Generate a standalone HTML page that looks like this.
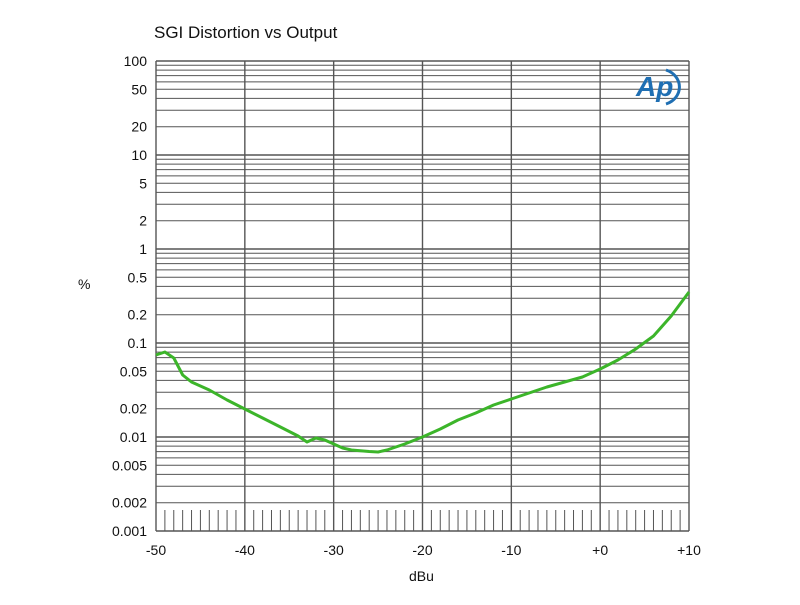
<!DOCTYPE html>
<html><head><meta charset="utf-8"><style>
body{margin:0;background:#fff;width:800px;height:600px;overflow:hidden}
svg text{font-family:"Liberation Sans",sans-serif;fill:#111}
</style></head><body>
<svg id="s" width="800" height="600" xmlns="http://www.w3.org/2000/svg">
<text x="154" y="38" font-size="17">SGI Distortion vs Output</text>
<text x="78" y="289" font-size="14">%</text>
<text x="409" y="581" font-size="14">dBu</text>
<g id="g"></g>
<g transform="translate(636,68)">
<text x="0" y="28" font-size="28" font-style="italic" font-weight="bold" style="fill:#1f6fb3">Ap</text>
<path d="M30 2 A20 18 0 0 1 30 36" fill="none" stroke="#1f6fb3" stroke-width="3"/>
</g>
</svg>
<script>
var g=document.getElementById('g'),h='';
var L=156,R=689,T=61,B=531,D=94,C='#555';
function yv(v){return T+(2-Math.log10(v))*D;}
for(var e=-3;e<2;e++)for(var m=1;m<10;m++){var y=yv(m*Math.pow(10,e));
h+='<line x1="'+L+'" x2="'+R+'" y1="'+y.toFixed(1)+'" y2="'+y.toFixed(1)+'" stroke="'+C+'" stroke-width="'+(m==1?1.4:1)+'"/>';}
h+='<line x1="'+L+'" x2="'+R+'" y1="'+T+'" y2="'+T+'" stroke="'+C+'" stroke-width="1.4"/>';
for(var d=-50;d<=10;d+=1){var x=L+(d+50)*(R-L)/60;
if(d%10==0)h+='<line x1="'+x+'" x2="'+x+'" y1="'+T+'" y2="'+B+'" stroke="'+C+'" stroke-width="1.4"/>';
else h+='<line x1="'+x+'" x2="'+x+'" y1="510" y2="'+B+'" stroke="'+C+'" stroke-width="1"/>';}
var lab=[[100,'100'],[50,'50'],[20,'20'],[10,'10'],[5,'5'],[2,'2'],[1,'1'],[0.5,'0.5'],[0.2,'0.2'],[0.1,'0.1'],[0.05,'0.05'],[0.02,'0.02'],[0.01,'0.01'],[0.005,'0.005'],[0.002,'0.002'],[0.001,'0.001']];
lab.forEach(function(a){h+='<text x="147" y="'+(yv(a[0])+5)+'" font-size="14" text-anchor="end">'+a[1]+'</text>';});
var xl=['-50','-40','-30','-20','-10','+0','+10'];
xl.forEach(function(t,i){var x=L+i*(R-L)/6;h+='<text x="'+x+'" y="555" font-size="14" text-anchor="middle">'+t+'</text>';});
var p=[[-50,355],[-49,352],[-48,358],[-47,375],[-46,382],[-44,390],[-42,400],[-40,409],[-38,418],[-36,427],[-34,436],[-33,442],[-32,438],[-31,440],[-30,444],[-29,448],[-28,450],[-26,451.5],[-25,452],[-24,450],[-22,444],[-20,437],[-18,429],[-16,420],[-14,413],[-12,405],[-10,399],[-8,393],[-6,387],[-4,382],[-2,377],[0,369],[2,360],[4,349],[6,336],[8,316],[10,292]];
h+='<polyline fill="none" stroke="#3cb52a" stroke-width="3" stroke-linejoin="round" points="'+p.map(function(a){return (L+(a[0]+50)*(R-L)/60).toFixed(1)+','+a[1]}).join(' ')+'"/>';
g.innerHTML=h;
</script>
</body></html>
